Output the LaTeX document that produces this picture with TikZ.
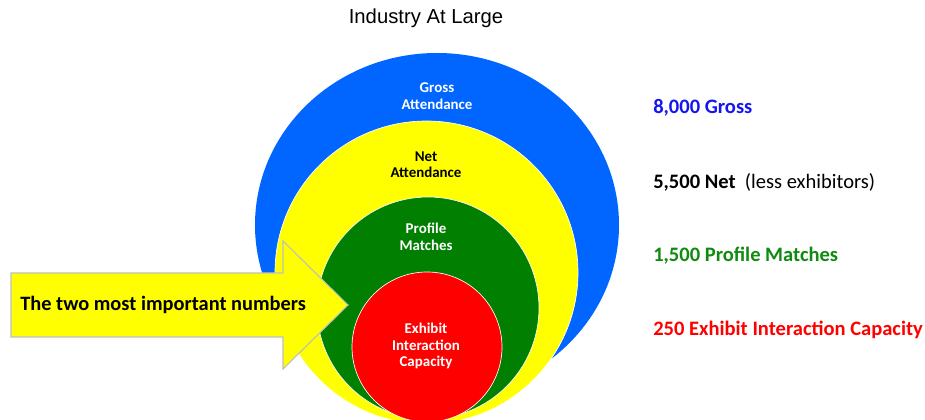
\documentclass[tikz,border=0pt]{standalone}
\usepackage{fontspec}
\setmainfont{Carlito}
\newfontfamily\titlefont{Liberation Sans}
\definecolor{grossblue}{HTML}{0066FF}
\definecolor{netyellow}{HTML}{FFFF00}
\definecolor{profgreen}{HTML}{007F00}
\definecolor{capred}{HTML}{FF0000}
\definecolor{txtblue}{HTML}{1515F0}
\definecolor{txtgreen}{HTML}{108A10}
\definecolor{arrowedge}{HTML}{BFBFBF}
\tikzset{
  ring/.style={draw=white, line width=0.5pt},
  inlabel/.style={font=\bfseries\fontsize{11.2}{12.3}\selectfont, align=center, inner sep=0pt},
  sidelabel/.style={font=\bfseries\fontsize{15.4}{18}\selectfont, anchor=west, inner sep=0pt},
}
\begin{document}
\begin{tikzpicture}[x=0.75pt,y=-0.75pt]
\useasboundingbox (0,0) rectangle (925,420);
\fill[white] (0,0) rectangle (925,420);

% nested attendance circles
\fill[grossblue] (437,225) ellipse [x radius=182, y radius=172];
\filldraw[fill=netyellow, ring] (426.5,272.5) circle [radius=151.5];
\filldraw[fill=profgreen, ring] (428,308) circle [radius=111];
\filldraw[fill=capred, ring] (427,347) circle [radius=75];

% pointer arrow
\filldraw[fill=netyellow, draw=arrowedge, line width=0.8pt, line join=miter]
  (11,273) -- (283,273) -- (283,241) -- (348,305) -- (283,369) -- (283,337) -- (11,337) -- cycle;
\node[font=\bfseries\fontsize{15.3}{18}\selectfont, anchor=west, inner sep=0pt] (pointer) at (20,305) {The two most important numbers};

% title
\node[font=\titlefont\fontsize{15.2}{18}\selectfont, inner sep=0pt] (title) at (426,18) {Industry At Large};

% labels inside the circles
\node[inlabel, text=white] (gross) at (437,96) {Gross\\Attendance};
\node[inlabel, text=black] (net) at (426,165) {Net\\Attendance};
\node[inlabel, text=white] (prof) at (426,237) {Profile\\Matches};
\node[inlabel, text=white] (cap) at (426,346) {Exhibit\\Interaction\\Capacity};

% figures on the right
\node[sidelabel, text=txtblue] (ngross) at (653,108) {8,000 Gross};
\node[sidelabel, text=black] (nnet) at (653,182) {5,500 Net\ \ \mdseries(less exhibitors)};
\node[sidelabel, text=txtgreen] (nprof) at (653,256) {1,500 Profile Matches};
\node[sidelabel, text=capred] (ncap) at (653,330) {250 Exhibit Interaction Capacity};
\end{tikzpicture}
\end{document}
